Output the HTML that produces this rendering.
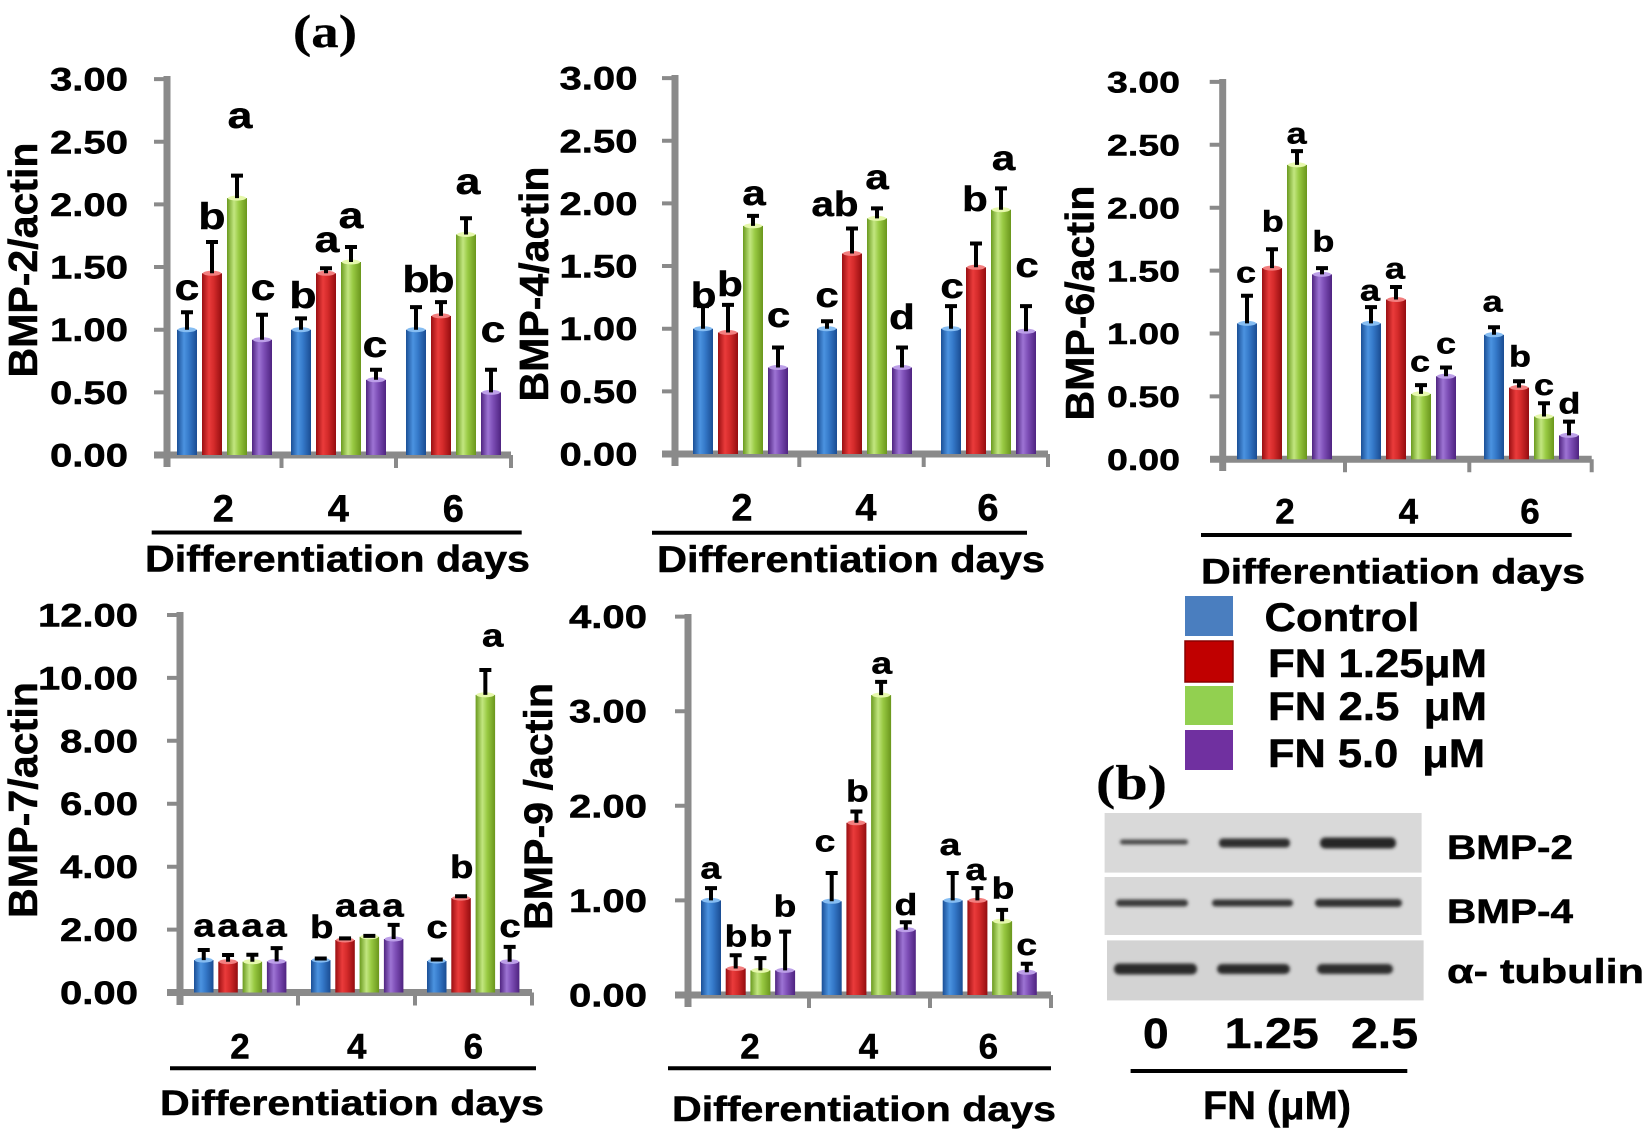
<!DOCTYPE html>
<html><head><meta charset="utf-8"><style>
html,body{margin:0;padding:0;background:#fff}
svg{display:block}
text{font-family:"Liberation Sans",Arial,sans-serif;font-weight:bold;fill:#000;stroke:#000;stroke-width:0.5}
.ser{font-family:"Liberation Serif","Times New Roman",serif;font-weight:bold;stroke-width:0.3}
.B{fill:url(#gB)}.R{fill:url(#gR)}.G{fill:url(#gG)}.P{fill:url(#gP)}
.tB{fill:#86bdf2}.tR{fill:#f27f7f}.tG{fill:#e6f8ac}.tP{fill:#bc9fe8}
.e{stroke:#000;stroke-width:4;fill:none}
.ax{stroke:#8a8a8a;stroke-width:7;fill:none}
.tk{stroke:#8a8a8a;stroke-width:4;fill:none}
.ul{stroke:#000;stroke-width:4}
.lt{text-anchor:middle}
.tl{font-size:32px}
</style></head><body>
<svg width="1647" height="1134" viewBox="0 0 1647 1134" xmlns="http://www.w3.org/2000/svg">
<defs>
<linearGradient id="gB" x1="0" x2="1" y1="0" y2="0"><stop offset="0" stop-color="#1b4f96"/><stop offset=".35" stop-color="#4b93e0"/><stop offset=".6" stop-color="#3579c9"/><stop offset="1" stop-color="#1a4c92"/></linearGradient>
<linearGradient id="gR" x1="0" x2="1" y1="0" y2="0"><stop offset="0" stop-color="#9a0f12"/><stop offset=".35" stop-color="#ea3b3b"/><stop offset=".6" stop-color="#d32a2a"/><stop offset="1" stop-color="#940d10"/></linearGradient>
<linearGradient id="gG" x1="0" x2="1" y1="0" y2="0"><stop offset="0" stop-color="#6a9a1e"/><stop offset=".35" stop-color="#c2e680"/><stop offset=".6" stop-color="#98c942"/><stop offset="1" stop-color="#6a961c"/></linearGradient>
<linearGradient id="gP" x1="0" x2="1" y1="0" y2="0"><stop offset="0" stop-color="#4f2480"/><stop offset=".35" stop-color="#9d74d4"/><stop offset=".6" stop-color="#7d4eb6"/><stop offset="1" stop-color="#4e2380"/></linearGradient>
<filter id="bl" x="-20%" y="-100%" width="140%" height="300%"><feGaussianBlur stdDeviation="1.6"/></filter>
</defs>
<rect width="1647" height="1134" fill="#fff"/>

<!-- (a) -->
<text class="ser" x="293" y="47" font-size="47" textLength="64" lengthAdjust="spacingAndGlyphs">(a)</text>

<!-- ================= PANEL 1 ================= -->
<g>
<path class="ax" d="M167 76V467M154 455H511"/>
<path class="tk" d="M154 79.1H167M154 141.75H167M154 204.4H167M154 267.05H167M154 329.7H167M154 392.35H167M281.5 455V468M396 455V468M511 455V468"/>
<g class="tl">
<text x="50" y="90.6" textLength="78" lengthAdjust="spacingAndGlyphs">3.00</text>
<text x="50" y="153.3" textLength="78" lengthAdjust="spacingAndGlyphs">2.50</text>
<text x="50" y="215.9" textLength="78" lengthAdjust="spacingAndGlyphs">2.00</text>
<text x="50" y="278.6" textLength="78" lengthAdjust="spacingAndGlyphs">1.50</text>
<text x="50" y="341.2" textLength="78" lengthAdjust="spacingAndGlyphs">1.00</text>
<text x="50" y="403.9" textLength="78" lengthAdjust="spacingAndGlyphs">0.50</text>
<text x="50" y="466.5" textLength="78" lengthAdjust="spacingAndGlyphs">0.00</text>
</g>
<text transform="translate(37 260) rotate(-90)" class="lt" font-size="41" textLength="235" lengthAdjust="spacingAndGlyphs">BMP-2/actin</text>
<rect class="B" x="177" y="329.7" width="20" height="125.3"/><ellipse class="tB" cx="187" cy="329.7" rx="9" ry="2.5"/><path class="e" d="M187 329.7V312.2M181 312.2H193"/>
<rect class="R" x="202" y="273.3" width="20" height="181.7"/><ellipse class="tR" cx="212" cy="273.3" rx="9" ry="2.5"/><path class="e" d="M212 273.3V242M206 242H218"/>
<rect class="G" x="227" y="198.1" width="20" height="256.9"/><ellipse class="tG" cx="237" cy="198.1" rx="9" ry="2.5"/><path class="e" d="M237 198.1V175.6M231 175.6H243"/>
<rect class="P" x="252" y="339.7" width="20" height="115.3"/><ellipse class="tP" cx="262" cy="339.7" rx="9" ry="2.5"/><path class="e" d="M262 339.7V314.7M256 314.7H268"/>
<rect class="B" x="291" y="329.7" width="20" height="125.3"/><ellipse class="tB" cx="301" cy="329.7" rx="9" ry="2.5"/><path class="e" d="M301 329.7V318.4M295 318.4H307"/>
<rect class="R" x="316" y="273.3" width="20" height="181.7"/><ellipse class="tR" cx="326" cy="273.3" rx="9" ry="2.5"/><path class="e" d="M326 273.3V268.3M320 268.3H332"/>
<rect class="G" x="341" y="262" width="20" height="193"/><ellipse class="tG" cx="351" cy="262" rx="9" ry="2.5"/><path class="e" d="M351 262V247M345 247H357"/>
<rect class="P" x="366" y="379.8" width="20" height="75.2"/><ellipse class="tP" cx="376" cy="379.8" rx="9" ry="2.5"/><path class="e" d="M376 379.8V369.8M370 369.8H382"/>
<rect class="B" x="406" y="329.7" width="20" height="125.3"/><ellipse class="tB" cx="416" cy="329.7" rx="9" ry="2.5"/><path class="e" d="M416 329.7V307.1M410 307.1H422"/>
<rect class="R" x="431" y="315.9" width="20" height="139.1"/><ellipse class="tR" cx="441" cy="315.9" rx="9" ry="2.5"/><path class="e" d="M441 315.9V302.1M435 302.1H447"/>
<rect class="G" x="456" y="234.5" width="20" height="220.5"/><ellipse class="tG" cx="466" cy="234.5" rx="9" ry="2.5"/><path class="e" d="M466 234.5V218.2M460 218.2H472"/>
<rect class="P" x="481" y="392.4" width="20" height="62.6"/><ellipse class="tP" cx="491" cy="392.4" rx="9" ry="2.5"/><path class="e" d="M491 392.4V369.8M485 369.8H497"/>
<g class="lt" font-size="37">
<text transform="translate(187 300) scale(1.2 1)">c</text>
<text transform="translate(212 229) scale(1.2 1)">b</text>
<text transform="translate(240 128) scale(1.2 1)">a</text>
<text transform="translate(263 300) scale(1.2 1)">c</text>
<text transform="translate(303 308) scale(1.2 1)">b</text>
<text transform="translate(327 252) scale(1.2 1)">a</text>
<text transform="translate(351 228) scale(1.2 1)">a</text>
<text transform="translate(375 357) scale(1.2 1)">c</text>
<text transform="translate(416 292) scale(1.2 1)">b</text>
<text transform="translate(441 292) scale(1.2 1)">b</text>
<text transform="translate(468 194) scale(1.2 1)">a</text>
<text transform="translate(493 342) scale(1.2 1)">c</text>
</g>
<g class="lt" font-size="38">
<text x="223.3" y="521.7">2</text><text x="338.3" y="521.7">4</text><text x="453.3" y="521.7">6</text>
</g>
<line class="ul" x1="151.7" y1="532.5" x2="521.7" y2="532.5"/>
<text x="145" y="571.7" font-size="37" textLength="385" lengthAdjust="spacingAndGlyphs">Differentiation days</text>
</g>

<!-- ================= PANEL 2 ================= -->
<g>
<path class="ax" d="M675 75V466M662 454H1048"/>
<path class="tk" d="M662 78.1H675M662 140.75H675M662 203.4H675M662 266.05H675M662 328.7H675M662 391.35H675M799.3 454V467M923.7 454V467M1048 454V467"/>
<g class="tl">
<text x="559.5" y="89.6" textLength="78" lengthAdjust="spacingAndGlyphs">3.00</text>
<text x="559.5" y="152.3" textLength="78" lengthAdjust="spacingAndGlyphs">2.50</text>
<text x="559.5" y="214.9" textLength="78" lengthAdjust="spacingAndGlyphs">2.00</text>
<text x="559.5" y="277.6" textLength="78" lengthAdjust="spacingAndGlyphs">1.50</text>
<text x="559.5" y="340.2" textLength="78" lengthAdjust="spacingAndGlyphs">1.00</text>
<text x="559.5" y="402.9" textLength="78" lengthAdjust="spacingAndGlyphs">0.50</text>
<text x="559.5" y="465.5" textLength="78" lengthAdjust="spacingAndGlyphs">0.00</text>
</g>
<text transform="translate(548 284) rotate(-90)" class="lt" font-size="41" textLength="235" lengthAdjust="spacingAndGlyphs">BMP-4/actin</text>
<rect class="B" x="693" y="328.7" width="20" height="125.3"/><ellipse class="tB" cx="703" cy="328.7" rx="9" ry="2.5"/><path class="e" d="M703 328.7V306.1M697 306.1H709"/>
<rect class="R" x="718" y="332.5" width="20" height="121.5"/><ellipse class="tR" cx="728" cy="332.5" rx="9" ry="2.5"/><path class="e" d="M728 332.5V304.9M722 304.9H734"/>
<rect class="G" x="743" y="225.9" width="20" height="228.1"/><ellipse class="tG" cx="753" cy="225.9" rx="9" ry="2.5"/><path class="e" d="M753 225.9V215.9M747 215.9H759"/>
<rect class="P" x="768" y="367.5" width="20" height="86.5"/><ellipse class="tP" cx="778" cy="367.5" rx="9" ry="2.5"/><path class="e" d="M778 367.5V347.5M772 347.5H784"/>
<rect class="B" x="817" y="328.7" width="20" height="125.3"/><ellipse class="tB" cx="827" cy="328.7" rx="9" ry="2.5"/><path class="e" d="M827 328.7V321.2M821 321.2H833"/>
<rect class="R" x="842" y="253.5" width="20" height="200.5"/><ellipse class="tR" cx="852" cy="253.5" rx="9" ry="2.5"/><path class="e" d="M852 253.5V228.5M846 228.5H858"/>
<rect class="G" x="867" y="218.4" width="20" height="235.6"/><ellipse class="tG" cx="877" cy="218.4" rx="9" ry="2.5"/><path class="e" d="M877 218.4V208.4M871 208.4H883"/>
<rect class="P" x="892" y="367.5" width="20" height="86.5"/><ellipse class="tP" cx="902" cy="367.5" rx="9" ry="2.5"/><path class="e" d="M902 367.5V347.5M896 347.5H908"/>
<rect class="B" x="941" y="328.7" width="20" height="125.3"/><ellipse class="tB" cx="951" cy="328.7" rx="9" ry="2.5"/><path class="e" d="M951 328.7V306.1M945 306.1H957"/>
<rect class="R" x="966" y="267.3" width="20" height="186.7"/><ellipse class="tR" cx="976" cy="267.3" rx="9" ry="2.5"/><path class="e" d="M976 267.3V243.5M970 243.5H982"/>
<rect class="G" x="991" y="209.7" width="20" height="244.3"/><ellipse class="tG" cx="1001" cy="209.7" rx="9" ry="2.5"/><path class="e" d="M1001 209.7V188.4M995 188.4H1007"/>
<rect class="P" x="1016" y="331.2" width="20" height="122.8"/><ellipse class="tP" cx="1026" cy="331.2" rx="9" ry="2.5"/><path class="e" d="M1026 331.2V306.1M1020 306.1H1032"/>
<g class="lt" font-size="35">
<text transform="translate(703.6 307) scale(1.2 1)">b</text>
<text transform="translate(730 296) scale(1.2 1)">b</text>
<text transform="translate(754 205) scale(1.2 1)">a</text>
<text transform="translate(778.6 327) scale(1.2 1)">c</text>
<text transform="translate(827 307) scale(1.2 1)">c</text>
<text transform="translate(835 216) scale(1.15 1)">ab</text>
<text transform="translate(877 189) scale(1.2 1)">a</text>
<text transform="translate(902 329) scale(1.2 1)">d</text>
<text transform="translate(952 298) scale(1.2 1)">c</text>
<text transform="translate(975 211) scale(1.2 1)">b</text>
<text transform="translate(1003.6 170) scale(1.2 1)">a</text>
<text transform="translate(1027 277) scale(1.2 1)">c</text>
</g>
<g class="lt" font-size="38">
<text x="742" y="520.5">2</text><text x="866" y="520.5">4</text><text x="988" y="520.5">6</text>
</g>
<line class="ul" x1="652" y1="532.7" x2="1027" y2="532.7"/>
<text x="657" y="572" font-size="37" textLength="388" lengthAdjust="spacingAndGlyphs">Differentiation days</text>
</g>

<!-- ================= PANEL 3 ================= -->
<g>
<path class="ax" d="M1222.7 79V471M1210 459.3H1591.7"/>
<path class="tk" d="M1209.7 81.9H1222.7M1209.7 144.8H1222.7M1209.7 207.7H1222.7M1209.7 270.6H1222.7M1209.7 333.5H1222.7M1209.7 396.4H1222.7M1345 459.3V472.3M1469.3 459.3V472.3M1591.7 459.3V472.3"/>
<g font-size="30">
<text x="1107" y="92.6" textLength="73" lengthAdjust="spacingAndGlyphs">3.00</text>
<text x="1107" y="155.5" textLength="73" lengthAdjust="spacingAndGlyphs">2.50</text>
<text x="1107" y="218.4" textLength="73" lengthAdjust="spacingAndGlyphs">2.00</text>
<text x="1107" y="281.3" textLength="73" lengthAdjust="spacingAndGlyphs">1.50</text>
<text x="1107" y="344.2" textLength="73" lengthAdjust="spacingAndGlyphs">1.00</text>
<text x="1107" y="407.1" textLength="73" lengthAdjust="spacingAndGlyphs">0.50</text>
<text x="1107" y="470" textLength="73" lengthAdjust="spacingAndGlyphs">0.00</text>
</g>
<text transform="translate(1093.7 303) rotate(-90)" class="lt" font-size="40" textLength="235" lengthAdjust="spacingAndGlyphs">BMP-6/actin</text>
<rect class="B" x="1237" y="323.4" width="20" height="135.9"/><ellipse class="tB" cx="1247" cy="323.4" rx="9" ry="2.5"/><path class="e" d="M1247 323.4V295.8M1241 295.8H1253"/>
<rect class="R" x="1262" y="268.1" width="20" height="191.2"/><ellipse class="tR" cx="1272" cy="268.1" rx="9" ry="2.5"/><path class="e" d="M1272 268.1V249.2M1266 249.2H1278"/>
<rect class="G" x="1287" y="164.9" width="20" height="294.4"/><ellipse class="tG" cx="1297" cy="164.9" rx="9" ry="2.5"/><path class="e" d="M1297 164.9V151.1M1291 151.1H1303"/>
<rect class="P" x="1312" y="274.4" width="20" height="184.9"/><ellipse class="tP" cx="1322" cy="274.4" rx="9" ry="2.5"/><path class="e" d="M1322 274.4V268.1M1316 268.1H1328"/>
<rect class="B" x="1361" y="323.4" width="20" height="135.9"/><ellipse class="tB" cx="1371" cy="323.4" rx="9" ry="2.5"/><path class="e" d="M1371 323.4V307.1M1365 307.1H1377"/>
<rect class="R" x="1386" y="299.5" width="20" height="159.8"/><ellipse class="tR" cx="1396" cy="299.5" rx="9" ry="2.5"/><path class="e" d="M1396 299.5V287M1390 287H1402"/>
<rect class="G" x="1411" y="393.9" width="20" height="65.4"/><ellipse class="tG" cx="1421" cy="393.9" rx="9" ry="2.5"/><path class="e" d="M1421 393.9V385.1M1415 385.1H1427"/>
<rect class="P" x="1436" y="376.3" width="20" height="83"/><ellipse class="tP" cx="1446" cy="376.3" rx="9" ry="2.5"/><path class="e" d="M1446 376.3V367.5M1440 367.5H1452"/>
<rect class="B" x="1484" y="334.8" width="20" height="124.5"/><ellipse class="tB" cx="1494" cy="334.8" rx="9" ry="2.5"/><path class="e" d="M1494 334.8V327.2M1488 327.2H1500"/>
<rect class="R" x="1509" y="387.6" width="20" height="71.7"/><ellipse class="tR" cx="1519" cy="387.6" rx="9" ry="2.5"/><path class="e" d="M1519 387.6V381.3M1513 381.3H1525"/>
<rect class="G" x="1534" y="416.5" width="20" height="42.8"/><ellipse class="tG" cx="1544" cy="416.5" rx="9" ry="2.5"/><path class="e" d="M1544 416.5V403.3M1538 403.3H1550"/>
<rect class="P" x="1559" y="435.4" width="20" height="23.9"/><ellipse class="tP" cx="1569" cy="435.4" rx="9" ry="2.5"/><path class="e" d="M1569 435.4V421.6M1563 421.6H1575"/>
<g class="lt" font-size="30">
<text transform="translate(1246 282.7) scale(1.2 1)">c</text>
<text transform="translate(1272.7 231.7) scale(1.2 1)">b</text>
<text transform="translate(1296.7 143.3) scale(1.2 1)">a</text>
<text transform="translate(1323.3 251.7) scale(1.2 1)">b</text>
<text transform="translate(1370 300.7) scale(1.2 1)">a</text>
<text transform="translate(1395 278.3) scale(1.2 1)">a</text>
<text transform="translate(1420 371.7) scale(1.2 1)">c</text>
<text transform="translate(1446 353.3) scale(1.2 1)">c</text>
<text transform="translate(1492.7 311.7) scale(1.2 1)">a</text>
<text transform="translate(1520 366.7) scale(1.2 1)">b</text>
<text transform="translate(1544 395) scale(1.2 1)">c</text>
<text transform="translate(1569.3 413.3) scale(1.2 1)">d</text>
</g>
<g class="lt" font-size="35">
<text x="1285" y="523.3">2</text><text x="1408.3" y="523.3">4</text><text x="1530" y="523.3">6</text>
</g>
<line class="ul" x1="1201" y1="535" x2="1571.7" y2="535"/>
<text x="1201" y="583.3" font-size="35" textLength="384" lengthAdjust="spacingAndGlyphs">Differentiation days</text>
</g>

<!-- ================= PANEL 4 ================= -->
<g>
<path class="ax" d="M180 612V1005M167 992.5H532"/>
<path class="tk" d="M167 615H180M167 677.9H180M167 740.8H180M167 803.7H180M167 866.7H180M167 929.6H180M298 992.5V1005.5M415 992.5V1005.5M532 992.5V1005.5"/>
<g class="tl">
<text x="38" y="626.5" textLength="100" lengthAdjust="spacingAndGlyphs">12.00</text>
<text x="38" y="689.4" textLength="100" lengthAdjust="spacingAndGlyphs">10.00</text>
<text x="60" y="752.3" textLength="78" lengthAdjust="spacingAndGlyphs">8.00</text>
<text x="60" y="815.2" textLength="78" lengthAdjust="spacingAndGlyphs">6.00</text>
<text x="60" y="878.2" textLength="78" lengthAdjust="spacingAndGlyphs">4.00</text>
<text x="60" y="941.1" textLength="78" lengthAdjust="spacingAndGlyphs">2.00</text>
<text x="60" y="1004" textLength="78" lengthAdjust="spacingAndGlyphs">0.00</text>
</g>
<text transform="translate(37 800) rotate(-90)" class="lt" font-size="41" textLength="236" lengthAdjust="spacingAndGlyphs">BMP-7/actin</text>
<rect class="B" x="194" y="960.1" width="19.5" height="32.4"/><ellipse class="tB" cx="203.75" cy="960.1" rx="9" ry="2.5"/><path class="e" d="M203.75 960.1V950M197.75 950H209.75"/>
<rect class="R" x="218.3" y="961.7" width="19.5" height="30.8"/><ellipse class="tR" cx="228.05" cy="961.7" rx="9" ry="2.5"/><path class="e" d="M228.05 961.7V955M222.05 955H234.05"/>
<rect class="G" x="242.6" y="961.7" width="19.5" height="30.8"/><ellipse class="tG" cx="252.35" cy="961.7" rx="9" ry="2.5"/><path class="e" d="M252.35 961.7V954.7M246.35 954.7H258.35"/>
<rect class="P" x="266.9" y="961.4" width="19.5" height="31.1"/><ellipse class="tP" cx="276.65" cy="961.4" rx="9" ry="2.5"/><path class="e" d="M276.65 961.4V948.1M270.65 948.1H282.65"/>
<rect class="B" x="311" y="960.1" width="19.5" height="32.4"/><ellipse class="tB" cx="320.75" cy="960.1" rx="9" ry="2.5"/><path class="e" d="M320.75 960.1V958.5M314.75 958.5H326.75"/>
<rect class="R" x="335.3" y="940" width="19.5" height="52.5"/><ellipse class="tR" cx="345.05" cy="940" rx="9" ry="2.5"/><path class="e" d="M345.05 940V938.4M339.05 938.4H351.05"/>
<rect class="G" x="359.6" y="936.8" width="19.5" height="55.7"/><ellipse class="tG" cx="369.35" cy="936.8" rx="9" ry="2.5"/><path class="e" d="M369.35 936.8V935.9M363.35 935.9H375.35"/>
<rect class="P" x="383.9" y="939" width="19.5" height="53.5"/><ellipse class="tP" cx="393.65" cy="939" rx="9" ry="2.5"/><path class="e" d="M393.65 939V924.9M387.65 924.9H399.65"/>
<rect class="B" x="427" y="961" width="19.5" height="31.5"/><ellipse class="tB" cx="436.75" cy="961" rx="9" ry="2.5"/><path class="e" d="M436.75 961V959.5M430.75 959.5H442.75"/>
<rect class="R" x="451.3" y="898.1" width="19.5" height="94.4"/><ellipse class="tR" cx="461.05" cy="898.1" rx="9" ry="2.5"/><path class="e" d="M461.05 898.1V896.2M455.05 896.2H467.05"/>
<rect class="G" x="475.6" y="694.9" width="19.5" height="297.6"/><ellipse class="tG" cx="485.35" cy="694.9" rx="9" ry="2.5"/><path class="e" d="M485.35 694.9V670M479.35 670H491.35"/>
<rect class="P" x="499.9" y="961.7" width="19.5" height="30.8"/><ellipse class="tP" cx="509.65" cy="961.7" rx="9" ry="2.5"/><path class="e" d="M509.65 961.7V946.9M503.65 946.9H515.65"/>
<g class="lt" font-size="32">
<text transform="translate(204 936.7) scale(1.2 1)">a</text>
<text transform="translate(228 936.7) scale(1.2 1)">a</text>
<text transform="translate(252 936.7) scale(1.2 1)">a</text>
<text transform="translate(276 936.7) scale(1.2 1)">a</text>
<text transform="translate(321.7 938) scale(1.2 1)">b</text>
<text transform="translate(345.7 916.7) scale(1.2 1)">a</text>
<text transform="translate(369 916.7) scale(1.2 1)">a</text>
<text transform="translate(393 916.7) scale(1.2 1)">a</text>
<text transform="translate(437 938) scale(1.2 1)">c</text>
<text transform="translate(461.7 878) scale(1.2 1)">b</text>
<text transform="translate(492.7 646.7) scale(1.2 1)">a</text>
<text transform="translate(510 937) scale(1.2 1)">c</text>
</g>
<g class="lt" font-size="35">
<text x="240" y="1058.3">2</text><text x="356.7" y="1058.3">4</text><text x="473.3" y="1058.3">6</text>
</g>
<line class="ul" x1="170" y1="1068.3" x2="536" y2="1068.3"/>
<text x="160" y="1115" font-size="35" textLength="384" lengthAdjust="spacingAndGlyphs">Differentiation days</text>
</g>

<!-- ================= PANEL 5 ================= -->
<g>
<path class="ax" d="M688 614V1007M675 995H1051"/>
<path class="tk" d="M675 616.6H688M675 711.2H688M675 805.8H688M675 900.4H688M809 995V1008M930 995V1008M1051 995V1008"/>
<g class="tl">
<text x="569" y="628.1" textLength="78" lengthAdjust="spacingAndGlyphs">4.00</text>
<text x="569" y="722.7" textLength="78" lengthAdjust="spacingAndGlyphs">3.00</text>
<text x="569" y="817.3" textLength="78" lengthAdjust="spacingAndGlyphs">2.00</text>
<text x="569" y="911.9" textLength="78" lengthAdjust="spacingAndGlyphs">1.00</text>
<text x="569" y="1006.5" textLength="78" lengthAdjust="spacingAndGlyphs">0.00</text>
</g>
<text transform="translate(552 806.5) rotate(-90)" class="lt" font-size="40" textLength="247" lengthAdjust="spacingAndGlyphs">BMP-9 /actin</text>
<rect class="B" x="701" y="900.4" width="20" height="94.6"/><ellipse class="tB" cx="711" cy="900.4" rx="9" ry="2.5"/><path class="e" d="M711 900.4V888.1M705 888.1H717"/>
<rect class="R" x="725.7" y="968.5" width="20" height="26.5"/><ellipse class="tR" cx="735.7" cy="968.5" rx="9" ry="2.5"/><path class="e" d="M735.7 968.5V955.3M729.7 955.3H741.7"/>
<rect class="G" x="750.4" y="970.4" width="20" height="24.6"/><ellipse class="tG" cx="760.4" cy="970.4" rx="9" ry="2.5"/><path class="e" d="M760.4 970.4V958.1M754.4 958.1H766.4"/>
<rect class="P" x="775.1" y="970.4" width="20" height="24.6"/><ellipse class="tP" cx="785.1" cy="970.4" rx="9" ry="2.5"/><path class="e" d="M785.1 970.4V931.6M779.1 931.6H791.1"/>
<rect class="B" x="821.7" y="901.3" width="20" height="93.7"/><ellipse class="tB" cx="831.7" cy="901.3" rx="9" ry="2.5"/><path class="e" d="M831.7 901.3V873M825.7 873H837.7"/>
<rect class="R" x="846.4" y="822.8" width="20" height="172.2"/><ellipse class="tR" cx="856.4" cy="822.8" rx="9" ry="2.5"/><path class="e" d="M856.4 822.8V811.5M850.4 811.5H862.4"/>
<rect class="G" x="871.1" y="695.1" width="20" height="299.9"/><ellipse class="tG" cx="881.1" cy="695.1" rx="9" ry="2.5"/><path class="e" d="M881.1 695.1V681.9M875.1 681.9H887.1"/>
<rect class="P" x="895.8" y="929.7" width="20" height="65.3"/><ellipse class="tP" cx="905.8" cy="929.7" rx="9" ry="2.5"/><path class="e" d="M905.8 929.7V922.2M899.8 922.2H911.8"/>
<rect class="B" x="942.7" y="900.4" width="20" height="94.6"/><ellipse class="tB" cx="952.7" cy="900.4" rx="9" ry="2.5"/><path class="e" d="M952.7 900.4V873M946.7 873H958.7"/>
<rect class="R" x="967.4" y="900.4" width="20" height="94.6"/><ellipse class="tR" cx="977.4" cy="900.4" rx="9" ry="2.5"/><path class="e" d="M977.4 900.4V888.1M971.4 888.1H983.4"/>
<rect class="G" x="992.1" y="921.2" width="20" height="73.8"/><ellipse class="tG" cx="1002.1" cy="921.2" rx="9" ry="2.5"/><path class="e" d="M1002.1 921.2V909.9M996.1 909.9H1008.1"/>
<rect class="P" x="1016.8" y="972.3" width="20" height="22.7"/><ellipse class="tP" cx="1026.8" cy="972.3" rx="9" ry="2.5"/><path class="e" d="M1026.8 972.3V963.8M1020.8 963.8H1032.8"/>
<g class="lt" font-size="31">
<text transform="translate(710.7 878.3) scale(1.2 1)">a</text>
<text transform="translate(736 946.7) scale(1.2 1)">b</text>
<text transform="translate(760.7 946.7) scale(1.2 1)">b</text>
<text transform="translate(785 916.7) scale(1.2 1)">b</text>
<text transform="translate(825 851.7) scale(1.2 1)">c</text>
<text transform="translate(857.3 801.7) scale(1.2 1)">b</text>
<text transform="translate(881.7 673.3) scale(1.2 1)">a</text>
<text transform="translate(906 915) scale(1.2 1)">d</text>
<text transform="translate(950 855) scale(1.2 1)">a</text>
<text transform="translate(975.7 880) scale(1.2 1)">a</text>
<text transform="translate(1003 898.3) scale(1.2 1)">b</text>
<text transform="translate(1026.7 955) scale(1.2 1)">c</text>
</g>
<g class="lt" font-size="35">
<text x="750" y="1058.3">2</text><text x="868.3" y="1058.3">4</text><text x="988.3" y="1058.3">6</text>
</g>
<line class="ul" x1="668" y1="1068.3" x2="1051" y2="1068.3"/>
<text x="672" y="1121" font-size="35" textLength="384" lengthAdjust="spacingAndGlyphs">Differentiation days</text>
</g>

<!-- ================= LEGEND ================= -->
<rect x="1185" y="596" width="48" height="40" fill="#4a7ebf"/>
<rect x="1185" y="641" width="48" height="41" fill="#c00000" stroke="#8a0000" stroke-width="1.5"/>
<rect x="1185" y="686" width="48" height="39" fill="#92d050"/>
<rect x="1185" y="730" width="48" height="40" fill="#7030a0"/>
<g font-size="40" style="font-weight:normal;stroke:#000;stroke-width:0.4">
<text x="1264.5" y="631" textLength="155" lengthAdjust="spacingAndGlyphs">Control</text>
<text x="1268" y="677" textLength="219" lengthAdjust="spacingAndGlyphs">FN 1.25μM</text>
<text x="1268" y="720" textLength="219" lengthAdjust="spacingAndGlyphs" xml:space="preserve">FN 2.5  μM</text>
<text x="1268" y="767" textLength="217" lengthAdjust="spacingAndGlyphs" xml:space="preserve">FN 5.0  μM</text>
</g>

<!-- ================= (b) WESTERN BLOT ================= -->
<text class="ser" x="1096" y="799" font-size="49" textLength="71" lengthAdjust="spacingAndGlyphs">(b)</text>
<rect x="1104.6" y="813" width="317" height="59.6" fill="#d9d9d9"/>
<rect x="1104.6" y="877" width="317" height="58" fill="#d8d8d8"/>
<rect x="1107" y="940.4" width="316.6" height="60" fill="#d3d3d3"/>
<g filter="url(#bl)">
<rect x="1120" y="839.5" width="68" height="5" rx="2.5" fill="#4a4a4a"/>
<rect x="1219" y="838.5" width="71" height="9" rx="4" fill="#2e2e2e"/>
<rect x="1320" y="837.5" width="76" height="11" rx="5" fill="#262626"/>
<rect x="1116" y="899.5" width="72" height="7" rx="3.5" fill="#3a3a3a"/>
<rect x="1212" y="899.5" width="81" height="7" rx="3.5" fill="#363636"/>
<rect x="1315" y="899" width="87" height="8" rx="4" fill="#333"/>
<rect x="1114" y="963.5" width="83" height="11" rx="5" fill="#2a2a2a"/>
<rect x="1217" y="964" width="73" height="10" rx="5" fill="#2c2c2c"/>
<rect x="1317" y="964" width="76" height="10" rx="5" fill="#2e2e2e"/>
</g>
<g font-size="34">
<text x="1447" y="859" textLength="126" lengthAdjust="spacingAndGlyphs">BMP-2</text>
<text x="1447" y="923" textLength="126" lengthAdjust="spacingAndGlyphs">BMP-4</text>
<text x="1447" y="983" textLength="197" lengthAdjust="spacingAndGlyphs">α- tubulin</text>
</g>
<g font-size="43">
<text x="1143" y="1048" textLength="25.6" lengthAdjust="spacingAndGlyphs">0</text>
<text x="1224.7" y="1048" textLength="94" lengthAdjust="spacingAndGlyphs">1.25</text>
<text x="1351" y="1048" textLength="67" lengthAdjust="spacingAndGlyphs">2.5</text>
</g>
<line class="ul" x1="1130.6" y1="1071" x2="1407.3" y2="1071"/>
<text x="1203" y="1119" font-size="40" textLength="148" lengthAdjust="spacingAndGlyphs">FN (μM)</text>
</svg>
</body></html>
